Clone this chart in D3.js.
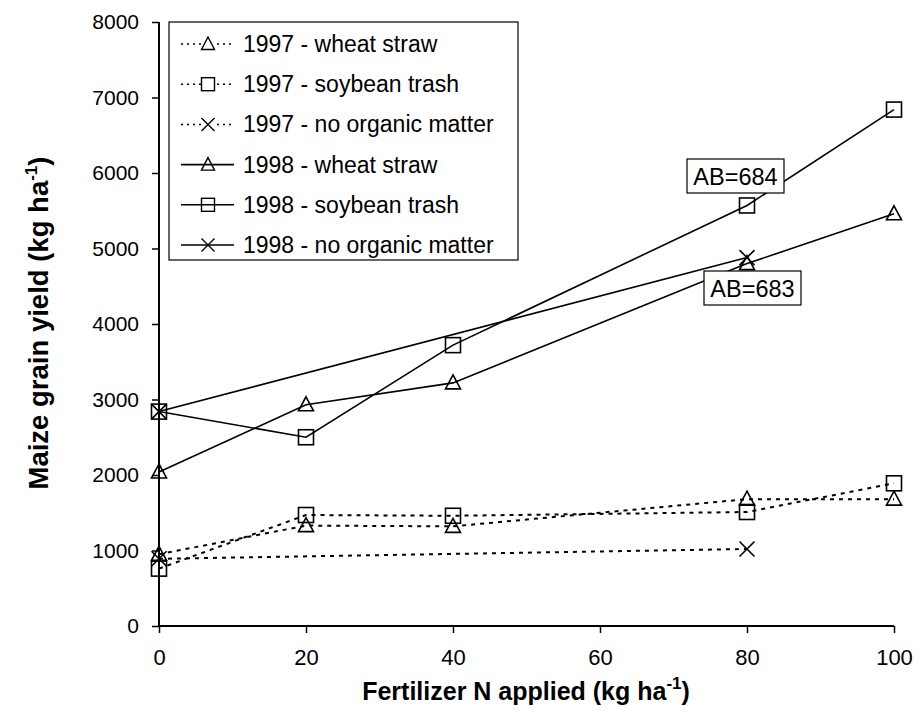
<!DOCTYPE html>
<html><head><meta charset="utf-8">
<script src="https://cdn.jsdelivr.net/npm/d3@7"></script>
<style>body{margin:0;background:#fff}svg{display:block}text{font-family:Arial,"Liberation Sans",sans-serif}</style>
</head><body><svg id="c" width="921" height="713"></svg>
<script>
const nLevels = [0, 20, 40, 80, 100];
const nLevelsNoOM = [0, 80];
const wheat1997 = [950, 1330, 1320, 1680, 1680];
const soy1997 = [760, 1470, 1460, 1510, 1890];
const noOM1997 = [890, 1020];
const wheat1998 = [2040, 2930, 3220, 4800, 5460];
const soy1998 = [2840, 2500, 3720, 5570, 6840];
const noOM1998 = [2840, 4880];
const xTicks = [0, 20, 40, 60, 80, 100];
const yTicks = [0, 1000, 2000, 3000, 4000, 5000, 6000, 7000, 8000];
const seriesNames = ["1997 - wheat straw","1997 - soybean trash","1997 - no organic matter","1998 - wheat straw","1998 - soybean trash","1998 - no organic matter"];
const annotations = [{text:"AB=684"}, {text:"AB=683"}];

const series = [
  {name:seriesNames[0], xs:nLevels, ys:wheat1997, sym:"tri", dash:true},
  {name:seriesNames[1], xs:nLevels, ys:soy1997, sym:"sq", dash:true},
  {name:seriesNames[2], xs:nLevelsNoOM, ys:noOM1997, sym:"x", dash:true},
  {name:seriesNames[3], xs:nLevels, ys:wheat1998, sym:"tri", dash:false},
  {name:seriesNames[4], xs:nLevels, ys:soy1998, sym:"sq", dash:false},
  {name:seriesNames[5], xs:nLevelsNoOM, ys:noOM1998, sym:"x", dash:false}
];

const svg = d3.select("#c");
const x = d3.scaleLinear().domain([0,100]).range([159,894]);
const y = d3.scaleLinear().domain([0,8000]).range([626,22]);

function marker(g, sym, cx, cy){
  if(sym==="tri"){
    g.append("path").attr("d",`M${cx},${cy-8}L${cx+7.5},${cy+6}L${cx-7.5},${cy+6}Z`)
     .attr("fill","none").attr("stroke","#000").attr("stroke-width",1.6);
  } else if(sym==="sq"){
    g.append("rect").attr("x",cx-7.5).attr("y",cy-7.5).attr("width",15).attr("height",15)
     .attr("fill","none").attr("stroke","#000").attr("stroke-width",1.6);
  } else {
    g.append("path").attr("d",`M${cx-7.5},${cy-7.5}L${cx+7.5},${cy+7.5}M${cx+7.5},${cy-7.5}L${cx-7.5},${cy+7.5}`)
     .attr("fill","none").attr("stroke","#000").attr("stroke-width",1.6);
  }
}

// axes
const yAxis = d3.axisLeft(y).tickValues(yTicks).tickSize(7).tickPadding(13).tickFormat(d3.format("d"));
const gy = svg.append("g").attr("transform","translate(159,0)").call(yAxis);
const xAxis = d3.axisBottom(x).tickValues(xTicks).tickSize(7).tickPadding(16).tickFormat(d3.format("d"));
const gx = svg.append("g").attr("transform","translate(0,626)").call(xAxis);
[gx,gy].forEach(g=>{
  g.select(".domain").attr("stroke","#000").attr("stroke-width",2);
  g.selectAll(".tick line").attr("stroke","#000").attr("stroke-width",1.5);
  g.selectAll(".tick text").attr("font-size",21).attr("fill","#000").attr("font-family","Arial,'Liberation Sans',sans-serif");
});
gx.selectAll(".tick text").attr("font-size",22);
gx.select(".domain").attr("d","M159,0H894");
gy.select(".domain").attr("d","M0,22V626");

// series
const line = d3.line();
series.forEach(s=>{
  const pts = s.xs.map((v,i)=>[x(v), y(s.ys[i])]);
  svg.append("path").attr("d",line(pts)).attr("fill","none").attr("stroke","#000")
    .attr("stroke-width", s.dash?2:1.6).attr("stroke-dasharray", s.dash?"4,5":null);
});
series.forEach(s=>{
  const g = svg.append("g");
  s.xs.forEach((v,i)=>marker(g, s.sym, x(v), y(s.ys[i])));
});

// annotations
annotations.forEach((a,i)=>{
  const g = svg.append("g");
  const bx = i===0 ? 687 : 704, by = i===0 ? 159 : 271;
  g.append("rect").attr("x",bx).attr("y",by).attr("width",97).attr("height",34)
    .attr("fill","#fff").attr("stroke","#000").attr("stroke-width",1.2);
  g.append("text").attr("x",bx+48.5).attr("y",by+25.5).attr("text-anchor","middle")
    .attr("font-size",23.5).text(a.text);
});

// legend
const lg = svg.append("g");
lg.append("rect").attr("x",169).attr("y",22).attr("width",349).attr("height",238)
  .attr("fill","#fff").attr("stroke","#000").attr("stroke-width",1.2);
series.forEach((s,i)=>{
  const yy = 44 + i*40.2;
  lg.append("line").attr("x1",181).attr("x2",234).attr("y1",yy).attr("y2",yy)
    .attr("stroke","#000").attr("stroke-width",s.dash?1.5:1.6).attr("stroke-dasharray",s.dash?"2,4":null);
  if(s.dash){
    lg.append("rect").attr("x",201).attr("y",yy-7).attr("width",14).attr("height",14).attr("fill","#fff");
  }
  const mg = lg.append("g");
  if(s.sym==="tri") mg.append("path").attr("d",`M208,${yy-7}L214.5,${yy+5.5}L201.5,${yy+5.5}Z`).attr("fill","none").attr("stroke","#000").attr("stroke-width",1.4);
  else if(s.sym==="sq") mg.append("rect").attr("x",201.5).attr("y",yy-6.5).attr("width",13).attr("height",13).attr("fill","none").attr("stroke","#000").attr("stroke-width",1.4);
  else mg.append("path").attr("d",`M201.5,${yy-6.5}L214.5,${yy+6.5}M214.5,${yy-6.5}L201.5,${yy+6.5}`).attr("stroke","#000").attr("stroke-width",1.4);
  lg.append("text").attr("x",243).attr("y",yy+8).attr("font-size",23).text(s.name);
});

// axis titles
const xt = svg.append("text").attr("x",526).attr("y",700).attr("text-anchor","middle")
  .attr("font-size",25).attr("font-weight","bold");
xt.append("tspan").text("Fertilizer N applied (kg ha");
xt.append("tspan").attr("font-size",17).attr("dy",-11).text("-1");
xt.append("tspan").attr("dy",11).text(")");

const yt = svg.append("text").attr("transform","translate(48,323) rotate(-90)").attr("text-anchor","middle")
  .attr("font-size",27.5).attr("font-weight","bold");
yt.append("tspan").text("Maize grain yield (kg ha");
yt.append("tspan").attr("font-size",17).attr("dy",-11).text("-1");
yt.append("tspan").attr("dy",11).text(")");
</script></body></html>
